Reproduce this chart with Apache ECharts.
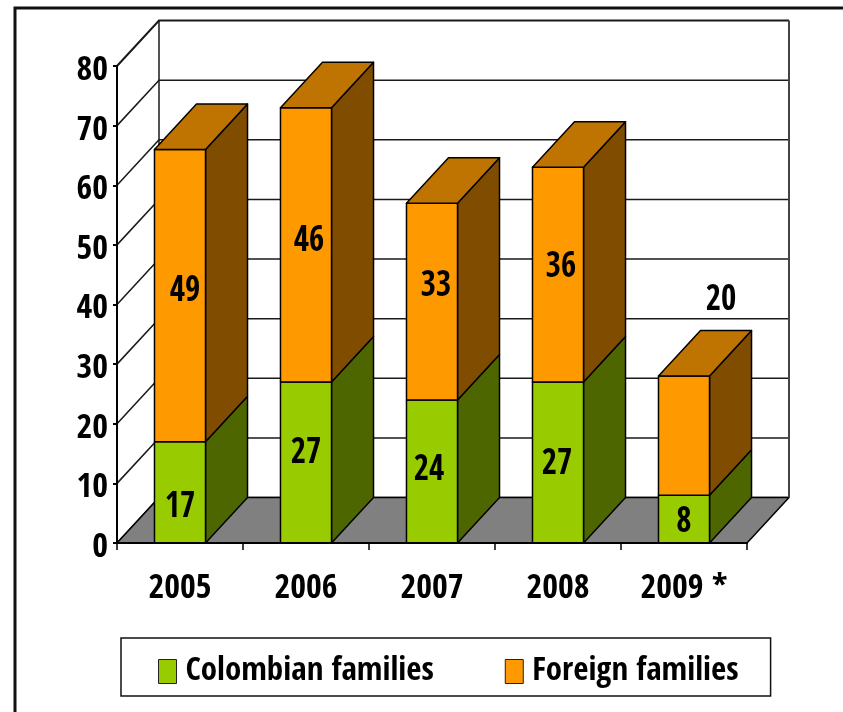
<!DOCTYPE html>
<html>
<head>
<meta charset="utf-8">
<style>html,body{margin:0;padding:0;background:#fff}#c{width:843px;height:712px}</style>
<script src="https://cdn.jsdelivr.net/npm/echarts@6/dist/echarts.min.js"></script>
</head>
<body>
<div id="c"></div>
<script>
const years = ['2005', '2006', '2007', '2008', '2009 *'];
const colombian = [17, 27, 24, 27, 8];
const foreign = [49, 46, 33, 36, 20];
const yTicks = [0, 10, 20, 30, 40, 50, 60, 70, 80];

// 3D look of the drawing
const depthX = 42, depthY = 45.5, barShare = 0.405;
const NARROW = 'Open Sans Condensed, Roboto Condensed, Liberation Sans';
// hand-placed label nudges of the reference, px from the centre of the front face
const colombianNudge = [[0, 15], [0, -9], [-3, -1], [-1, 2], [0, 3]];
const foreignNudge = [[5, -4], [3, -3], [4, -15], [3, -7], [37, -135]];

function line(pts, width, color) {
  return { type: 'polyline', shape: { points: pts }, style: { fill: 'none', stroke: color || '#1a1a1a', lineWidth: width || 1.5 } };
}
function poly(pts, fill) {
  return { type: 'polygon', shape: { points: pts }, style: { fill: fill, stroke: '#000', lineWidth: 1.5, lineJoin: 'round' } };
}
function renderWall(params, api) {
  const v = api.value(0), y = api.coord([0, v])[1];
  const cs = params.coordSys, x0 = cs.x, x1 = cs.x + cs.width;
  const kids = [line([[x0, y], [x0 + depthX, y - depthY], [x1 + depthX, y - depthY]], v === 80 ? 2 : 1.5)];
  if (v === 80) {
    const yb = cs.y + cs.height - depthY;
    kids.push(line([[x0 + depthX, y - depthY], [x0 + depthX, yb]]));
    kids.push(line([[x1 + depthX, y - depthY], [x1 + depthX, yb]], 2, '#444'));
  }
  if (v === 0) {
    kids.push(poly([[x0, y], [x0 + depthX, y - depthY], [x1 + depthX, y - depthY], [x1, y]], '#808080'));
  }
  return { type: 'group', children: kids };
}
function makeBar(nudges, topFill, sideFill, showTop) {
  return function (params, api) {
    const i = api.value(0), base = api.value(1), val = api.value(2);
    const b = api.coord([i, base]), t = api.coord([i, base + val]);
    const w = api.size([1, 0])[0] * barShare;
    const xl = b[0] - w / 2, xr = b[0] + w / 2, y0 = b[1], y1 = t[1];
    const kids = [
      poly([[xr, y0], [xr + depthX, y0 - depthY], [xr + depthX, y1 - depthY], [xr, y1]], sideFill),
      poly([[xl, y0], [xr, y0], [xr, y1], [xl, y1]], api.visual('color'))
    ];
    if (showTop) kids.push(poly([[xl, y1], [xr, y1], [xr + depthX, y1 - depthY], [xl + depthX, y1 - depthY]], topFill));
    kids.push({
      type: 'text',
      x: b[0] + nudges[i][0], y: (y0 + y1) / 2 + nudges[i][1],
      scaleY: 1.1,
      style: { text: String(val), fontFamily: NARROW, fontWeight: 'bold', fontSize: 33, fill: '#000', align: 'center', verticalAlign: 'middle' },
      z2: 10
    });
    return { type: 'group', children: kids };
  };
}
const colData = colombian.map((v, i) => [i, 0, v]);
const forData = foreign.map((v, i) => [i, colombian[i], v]);

const chart = echarts.init(document.getElementById('c'), null, { renderer: 'canvas' });
chart.setOption({
  animation: false,
  backgroundColor: '#fff',
  grid: { left: 117, right: 96, top: 66, bottom: 169, containLabel: false },
  graphic: [{ type: 'rect', silent: true, z: -1, shape: { x: 15, y: 8, width: 900, height: 800 }, style: { fill: 'none', stroke: '#111', lineWidth: 3 } }],
  legend: {
    left: 121, top: 638, width: 700,
    data: ['Colombian families', 'Foreign families'],
    backgroundColor: '#fff', borderColor: '#111', borderWidth: 1.5,
    padding: [17, 32, 8, 37],
    itemWidth: 18, itemHeight: 24, itemGap: 71,
    icon: 'rect',
    itemStyle: { borderColor: '#222', borderWidth: 1 },
    textStyle: { fontFamily: NARROW, fontWeight: 'bold', fontSize: 33, color: '#000', padding: [0, 0, 0, 4] }
  },
  xAxis: {
    type: 'category', data: years, boundaryGap: true, z: 6,
    axisLine: { lineStyle: { color: '#000', width: 2 } },
    axisTick: { show: true, length: 7, alignWithLabel: false, lineStyle: { color: '#000', width: 1.5 } },
    axisLabel: { interval: 0, margin: 29, fontFamily: NARROW, fontWeight: 'bold', fontSize: 34, color: '#000' },
    splitLine: { show: false }
  },
  yAxis: {
    type: 'value', min: 0, max: 80, interval: 10, z: 6,
    axisLine: { show: true, lineStyle: { color: '#000', width: 2 } },
    axisTick: { show: true, length: 4, lineStyle: { color: '#000', width: 2 } },
    axisLabel: { margin: 9, verticalAlign: 'top', lineHeight: 10, fontFamily: NARROW, fontWeight: 'bold', fontSize: 34, color: '#000', formatter: v => String(v) },
    splitLine: { show: false }
  },
  series: [
    { type: 'custom', name: 'walls', z: 1, silent: true, clip: false, renderItem: renderWall, encode: { y: 0 }, data: yTicks.map(v => [v]) },
    { type: 'custom', name: 'Colombian families', z: 3, clip: false, itemStyle: { color: '#99CC00' }, renderItem: makeBar(colombianNudge, '#739900', '#4D6600', false), encode: { x: 0, y: 2 }, data: colData },
    { type: 'custom', name: 'Foreign families', z: 3, clip: false, itemStyle: { color: '#FF9900' }, renderItem: makeBar(foreignNudge, '#BF7300', '#804D00', true), encode: { x: 0, y: 2 }, data: forData }
  ]
});
</script>
</body>
</html>
